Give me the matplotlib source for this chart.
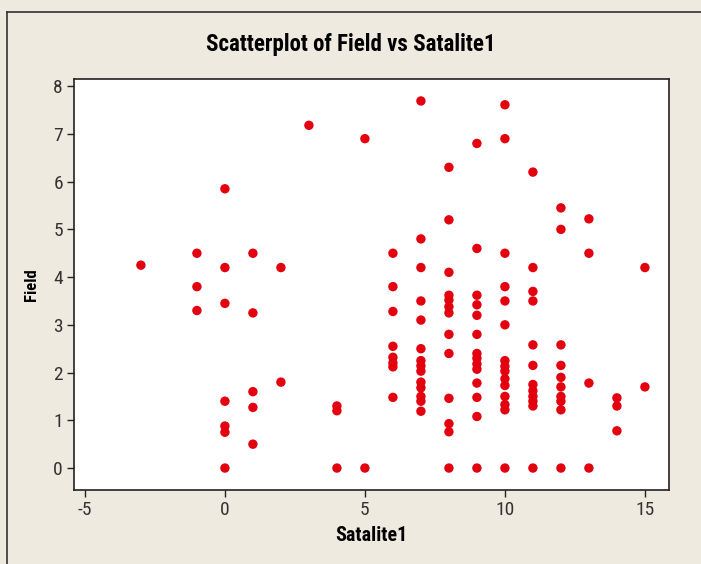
import matplotlib
matplotlib.use("Agg")
import matplotlib.pyplot as plt
from matplotlib.lines import Line2D

# Data: Satalite1 (x) and Field (y), grouped by x value
satalite1 = ([-3] + [-1]*3 + [0]*7 + [1]*5 + [2]*2 + [3] + [4]*3 + [5]*2 +
             [6]*8 + [7]*14 + [8]*13 + [9]*14 + [10]*15 + [11]*12 + [12]*10 +
             [13]*4 + [14]*3 + [15]*2)
field = ([4.25] +
         [4.5, 3.8, 3.3] +
         [5.85, 4.2, 3.45, 1.4, 0.88, 0.75, 0] +
         [4.5, 3.25, 1.6, 1.27, 0.5] +
         [4.2, 1.8] +
         [7.18] +
         [1.3, 1.2, 0] +
         [6.9, 0] +
         [4.5, 3.8, 3.28, 2.55, 2.32, 2.2, 2.12, 1.48] +
         [7.69, 4.8, 4.2, 3.5, 3.1, 2.5, 2.25, 2.14, 2.03, 1.8, 1.68, 1.5, 1.4, 1.19] +
         [6.3, 5.2, 4.1, 3.62, 3.52, 3.38, 3.25, 2.8, 2.4, 1.46, 0.93, 0.76, 0] +
         [6.8, 4.6, 3.62, 3.42, 3.2, 2.8, 2.4, 2.3, 2.18, 2.07, 1.78, 1.48, 1.08, 0] +
         [7.61, 6.9, 4.5, 3.8, 3.5, 3.0, 2.25, 2.13, 2.03, 1.87, 1.73, 1.5, 1.33, 1.22, 0] +
         [6.2, 4.2, 3.7, 3.5, 2.58, 2.15, 1.75, 1.62, 1.5, 1.4, 1.3, 0] +
         [5.45, 5.0, 2.58, 2.15, 1.9, 1.7, 1.5, 1.4, 1.22, 0] +
         [5.22, 4.5, 1.78, 0] +
         [1.47, 1.3, 0.78] +
         [4.2, 1.7])
xticks = [-5, 0, 5, 10, 15]
yticks = [0, 1, 2, 3, 4, 5, 6, 7, 8]

plt.rcParams["axes.unicode_minus"] = False

W, H = 701, 564
bg = "#EFEAE0"
fig = plt.figure(figsize=(W/100, H/100), dpi=100, facecolor=bg)

narrow = ["Roboto Condensed", "Open Sans Condensed", "Roboto", "DejaVu Sans"]

# outer frame lines (left and top)
fig.add_artist(Line2D([7/W, 7/W], [0, 1 - 12/H], color="#333333", lw=1.2))
fig.add_artist(Line2D([7/W, 1], [1 - 12/H, 1 - 12/H], color="#333333", lw=1.2))

left, right, top, bottom = 74, 669, 79, 490
ax = fig.add_axes([left/W, 1 - bottom/H, (right-left)/W, (bottom-top)/H])
ax.set_facecolor("white")
ax.scatter(satalite1, field, s=46, color="#E3000F", edgecolors="none", zorder=3)

ax.set_xlim(-5.39, 15.86)
ax.set_ylim(-0.46, 8.15)
ax.set_xticks(xticks)
ax.set_yticks(yticks)
for sp in ax.spines.values():
    sp.set_color("#222222")
    sp.set_linewidth(1.2)
ax.tick_params(direction="out", length=5, width=1, colors="#222222",
               labelsize=14, pad=3)
for lab in ax.get_xticklabels() + ax.get_yticklabels():
    lab.set_family(narrow)
    lab.set_color("#333333")

ax.set_xlabel("Satalite1", fontsize=14.5, fontweight="bold", family=narrow, labelpad=5)
ax.set_ylabel("Field", fontsize=12, fontweight="bold", family=narrow, labelpad=10)
fig.text(351/W, 1 - 44/H, "Scatterplot of Field vs Satalite1", ha="center", va="center",
         fontsize=16.5, fontweight="bold", family=narrow)

fig.savefig("out.png", dpi=100, facecolor=bg)
